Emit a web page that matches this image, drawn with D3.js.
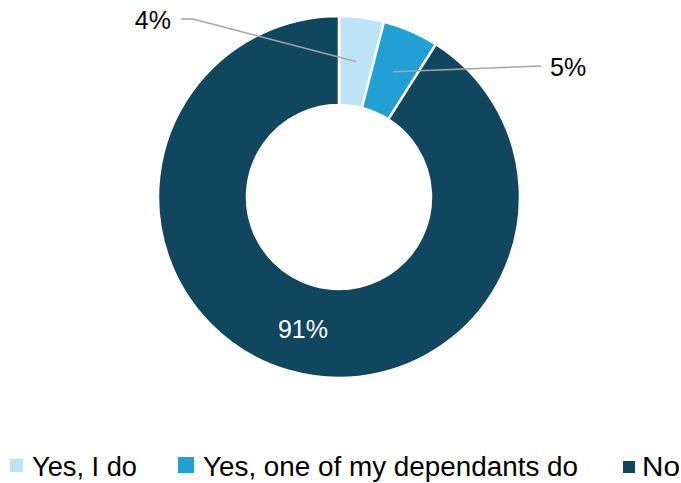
<!DOCTYPE html>
<html>
<head>
<meta charset="utf-8">
<script src="https://cdn.jsdelivr.net/npm/d3@7/dist/d3.min.js"></script>
<style>
  html, body { margin: 0; padding: 0; background: #ffffff; }
  svg { display: block; font-family: "Liberation Sans", Arial, sans-serif; }
</style>
</head>
<body>
<svg id="chart" width="681" height="483"></svg>
<script>
// Survey answers and their shares (percent)
const categories = ["Yes, I do", "Yes, one of my dependants do", "No"];
const shares = [4, 5, 91];
const colors = ["#bde4f4", "#21a0d6", "#10475f"];

const svg = d3.select("#chart");
const cx = 339, cy = 197;
const outerR = 181, innerR = 92;

const pie = d3.pie().sort(null).value(d => d.value);
const arcs = pie(categories.map((c, i) => ({ name: c, value: shares[i] })));
const arc = d3.arc().innerRadius(innerR).outerRadius(outerR);

const g = svg.append("g").attr("transform", `translate(${cx},${cy})`);

g.selectAll("path.slice")
  .data(arcs)
  .join("path")
  .attr("class", "slice")
  .attr("d", arc)
  .attr("fill", (d, i) => colors[i])
  .attr("stroke", "#ffffff")
  .attr("stroke-width", 2.5)
  .attr("stroke-linejoin", "miter");

// Leader lines for the two small slices
const leader = "#a6a6a6";
const c0 = arc.centroid(arcs[0]);
const c1 = arc.centroid(arcs[1]);
const lab0 = { x: 181 - cx, y: 19 - cy };
const lab1 = { x: 541 - cx, y: 66 - cy };

g.append("polyline")
  .attr("points", [[lab0.x, lab0.y], [lab0.x + 12, lab0.y], c0].map(p => p.join(",")).join(" "))
  .attr("fill", "none")
  .attr("stroke", leader)
  .attr("stroke-width", 1.5);

g.append("polyline")
  .attr("points", [c1, [lab1.x, lab1.y]].map(p => p.join(",")).join(" "))
  .attr("fill", "none")
  .attr("stroke", leader)
  .attr("stroke-width", 1.5);

g.append("text")
  .attr("x", lab0.x - 10)
  .attr("y", lab0.y + 10)
  .attr("text-anchor", "end")
  .attr("font-size", 25)
  .attr("fill", "#000000")
  .text(shares[0] + "%");

g.append("text")
  .attr("x", lab1.x + 9)
  .attr("y", lab1.y + 10)
  .attr("text-anchor", "start")
  .attr("font-size", 25)
  .attr("fill", "#000000")
  .text(shares[1] + "%");

const c2 = arc.centroid(arcs[2]);
g.append("text")
  .attr("x", c2[0] + 2)
  .attr("y", c2[1] + 10)
  .attr("text-anchor", "middle")
  .attr("font-size", 25)
  .attr("fill", "#ffffff")
  .text(shares[2] + "%");

// Legend along the bottom
const legendItems = [
  { sx: 10, sy: 459, s: 13, tx: 32, w: 105 },
  { sx: 178, sy: 457, s: 16, tx: 203, w: 375 },
  { sx: 623, sy: 461, s: 12, tx: 642, w: 38 }
];
const legend = svg.append("g");
categories.forEach((name, i) => {
  const L = legendItems[i];
  legend.append("rect")
    .attr("x", L.sx).attr("y", L.sy)
    .attr("width", L.s).attr("height", L.s)
    .attr("fill", colors[i]);
  legend.append("text")
    .attr("x", L.tx).attr("y", 476)
    .attr("font-size", 27)
    .attr("fill", "#000000")
    .attr("textLength", L.w)
    .attr("lengthAdjust", "spacingAndGlyphs")
    .text(name);
});
</script>
</body>
</html>
